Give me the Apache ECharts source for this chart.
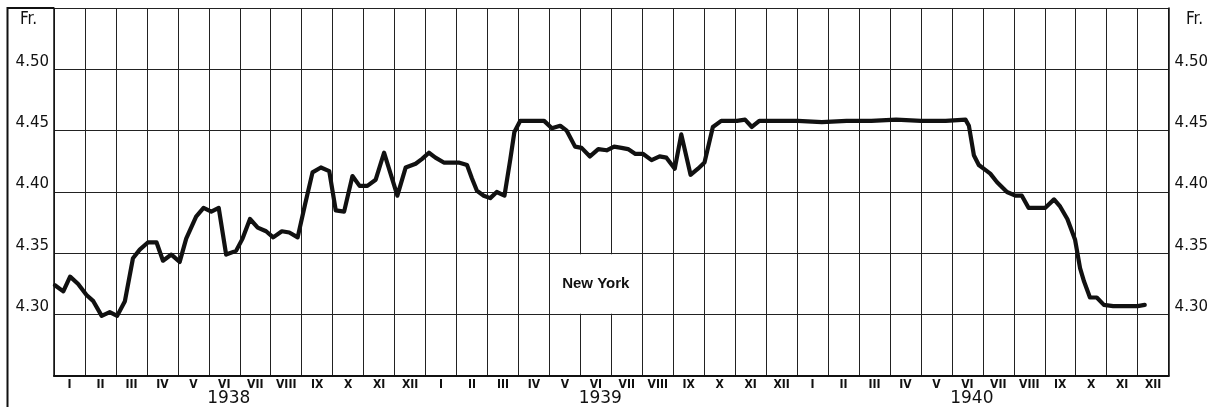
<!DOCTYPE html>
<html>
<head>
<meta charset="utf-8">
<script src="https://cdn.jsdelivr.net/npm/echarts@6/dist/echarts.min.js"></script>
<style>
html,body{margin:0;padding:0;background:#fff;}
#c{width:1211px;height:407px;}
</style>
</head>
<body>
<div id="c"></div>
<script>
// Month labels (one per month cell, Jan 1938 .. Dec 1940)
const monthLabels = ['I','II','III','IV','V','VI','VII','VIII','IX','X','XI','XII',
  'I','II','III','IV','V','VI','VII','VIII','IX','X','XI','XII',
  'I','II','III','IV','V','VI','VII','VIII','IX','X','XI','XII'];
const yearLabels = ['1938','1939','1940'];
const yTicks = [4.30, 4.35, 4.40, 4.45, 4.50];

// Time position in months since 1 Jan 1938
const monthPos = [
  0.03,0.30,0.52,0.78,1.05,1.27,1.54,1.80,2.04,2.29,2.55,2.77,3.04,3.31,3.52,3.79,
  4.06,4.27,4.59,4.83,5.08,5.32,5.56,5.88,6.09,6.33,6.58,6.85,7.08,7.36,7.60,7.87,
  8.11,8.35,8.62,8.89,9.10,9.37,9.64,9.87,10.12,10.39,10.66,11.09,11.36,11.68,11.89,
  12.11,12.32,12.59,12.86,13.07,13.34,13.50,13.66,13.88,14.09,14.30,14.55,14.74,14.87,
  15.06,15.33,15.59,15.83,16.08,16.35,16.56,16.83,17.04,17.31,17.58,17.85,18.09,18.33,
  18.54,18.78,19.03,19.30,19.56,19.78,20.05,20.26,20.56,20.80,21.01,21.28,21.55,21.80,
  22.06,22.32,22.54,22.78,23.30,24.02,24.80,25.60,26.40,27.20,28.00,28.80,29.44,29.55,
  29.71,29.87,30.08,30.24,30.46,30.78,31.05,31.26,31.48,31.75,32.01,32.30,32.50,32.73,
  32.98,33.14,33.27,33.46,33.68,33.91,34.21,34.60,35.00,35.23
];
// Exchange rate, Fr. per US dollar (New York)
const rates = [
  4.324,4.319,4.331,4.325,4.316,4.311,4.299,4.302,4.299,4.311,4.346,4.353,4.359,4.359,4.344,4.349,
  4.343,4.362,4.380,4.387,4.384,4.387,4.349,4.352,4.362,4.378,4.371,4.368,4.363,4.368,4.367,4.363,
  4.390,4.416,4.420,4.417,4.385,4.384,4.413,4.405,4.405,4.410,4.432,4.397,4.420,4.423,4.427,
  4.432,4.428,4.424,4.424,4.424,4.422,4.411,4.401,4.397,4.395,4.400,4.397,4.427,4.449,
  4.458,4.458,4.458,4.458,4.452,4.454,4.450,4.437,4.436,4.429,4.435,4.434,4.437,4.436,
  4.435,4.431,4.431,4.426,4.429,4.428,4.419,4.447,4.414,4.419,4.424,4.453,4.458,4.458,
  4.458,4.459,4.453,4.458,4.458,4.458,4.457,4.458,4.458,4.459,4.458,4.458,4.459,4.454,
  4.430,4.422,4.418,4.415,4.408,4.400,4.397,4.397,4.387,4.387,4.387,4.394,4.388,4.378,
  4.361,4.338,4.327,4.314,4.314,4.308,4.307,4.307,4.307,4.308
];

const seriesData = monthPos.map((m, i) => [m, rates[i]]);
const fmtY = v => {
  const r = Math.round(v * 100) / 100;
  return yTicks.some(t => Math.abs(t - r) < 1e-6) ? r.toFixed(2) : '';
};

const chart = echarts.init(document.getElementById('c'), null, {renderer: 'canvas'});
const ink = '#111';
const numFont = "'DejaVu Sans', sans-serif";
const romanFont = "'Liberation Sans Narrow', 'DejaVu Sans Condensed', sans-serif";

chart.setOption({
  animation: false,
  backgroundColor: '#fff',
  grid: {left: 54, right: 39, top: 8, bottom: 28.3, containLabel: false},
  xAxis: [
    {type: 'value', min: 0, max: 36, interval: 1, position: 'bottom',
     axisLine: {show: true, onZero: false, lineStyle: {color: ink, width: 2}},
     axisTick: {show: false}, axisLabel: {show: false},
     splitLine: {show: true, lineStyle: {color: '#222', width: 1}}},
    {type: 'category', data: monthLabels, position: 'bottom', boundaryGap: true,
     axisLine: {show: false}, axisTick: {show: false}, splitLine: {show: false},
     axisLabel: {interval: 0, margin: 3, fontSize: 12, fontWeight: 'bold', color: ink, fontFamily: romanFont}},
    {type: 'category', data: yearLabels, position: 'bottom', boundaryGap: true,
     axisLine: {show: false}, axisTick: {show: false}, splitLine: {show: false},
     axisLabel: {interval: 0, margin: 14, fontSize: 17, color: ink, fontFamily: numFont,
                 padding: [0, 22, 0, 0]}}
  ],
  yAxis: [
    {type: 'value', min: 4.25, max: 4.55, interval: 0.05, position: 'left',
     axisLine: {show: true, lineStyle: {color: ink, width: 1.5}},
     axisTick: {show: false},
     splitLine: {show: true, lineStyle: {color: '#222', width: 1}},
     axisLabel: {formatter: fmtY, margin: 5, fontSize: 15, color: ink, fontFamily: numFont,
                 verticalAlign: 'bottom'}},
    {type: 'value', min: 4.25, max: 4.55, interval: 0.05, position: 'right',
     axisLine: {show: true, lineStyle: {color: ink, width: 1.5}},
     axisTick: {show: false}, splitLine: {show: false},
     axisLabel: {formatter: fmtY, margin: 6, fontSize: 15, color: ink, fontFamily: numFont,
                 verticalAlign: 'bottom'}}
  ],
  series: [{
    type: 'line', xAxisIndex: 0, yAxisIndex: 0,
    data: seriesData, showSymbol: false, symbol: 'none',
    lineStyle: {color: ink, width: 4.2, join: 'round', cap: 'round'},
    markArea: {
      silent: true,
      itemStyle: {color: '#fff'},
      label: {show: true, position: 'inside', formatter: 'New York', fontSize: 15,
              fontWeight: 'bold', color: ink, fontFamily: "'Liberation Sans', Arial, sans-serif"},
      data: [[{xAxis: 16.05, yAxis: 4.3008}, {xAxis: 18.95, yAxis: 4.3492}]]
    }
  }],
  graphic: [
    {type: 'line', shape: {x1: 7.5, y1: 8, x2: 54, y2: 8}, style: {stroke: ink, lineWidth: 2}},
    {type: 'line', shape: {x1: 7.5, y1: 7, x2: 7.5, y2: 407}, style: {stroke: ink, lineWidth: 2}},
    {type: 'text', left: 20, top: 11, style: {text: 'Fr.', font: "17px 'DejaVu Sans Condensed', sans-serif", fill: ink}},
    {type: 'text', left: 1186, top: 11, style: {text: 'Fr.', font: "17px 'DejaVu Sans Condensed', sans-serif", fill: ink}}
  ]
});
</script>
</body>
</html>
